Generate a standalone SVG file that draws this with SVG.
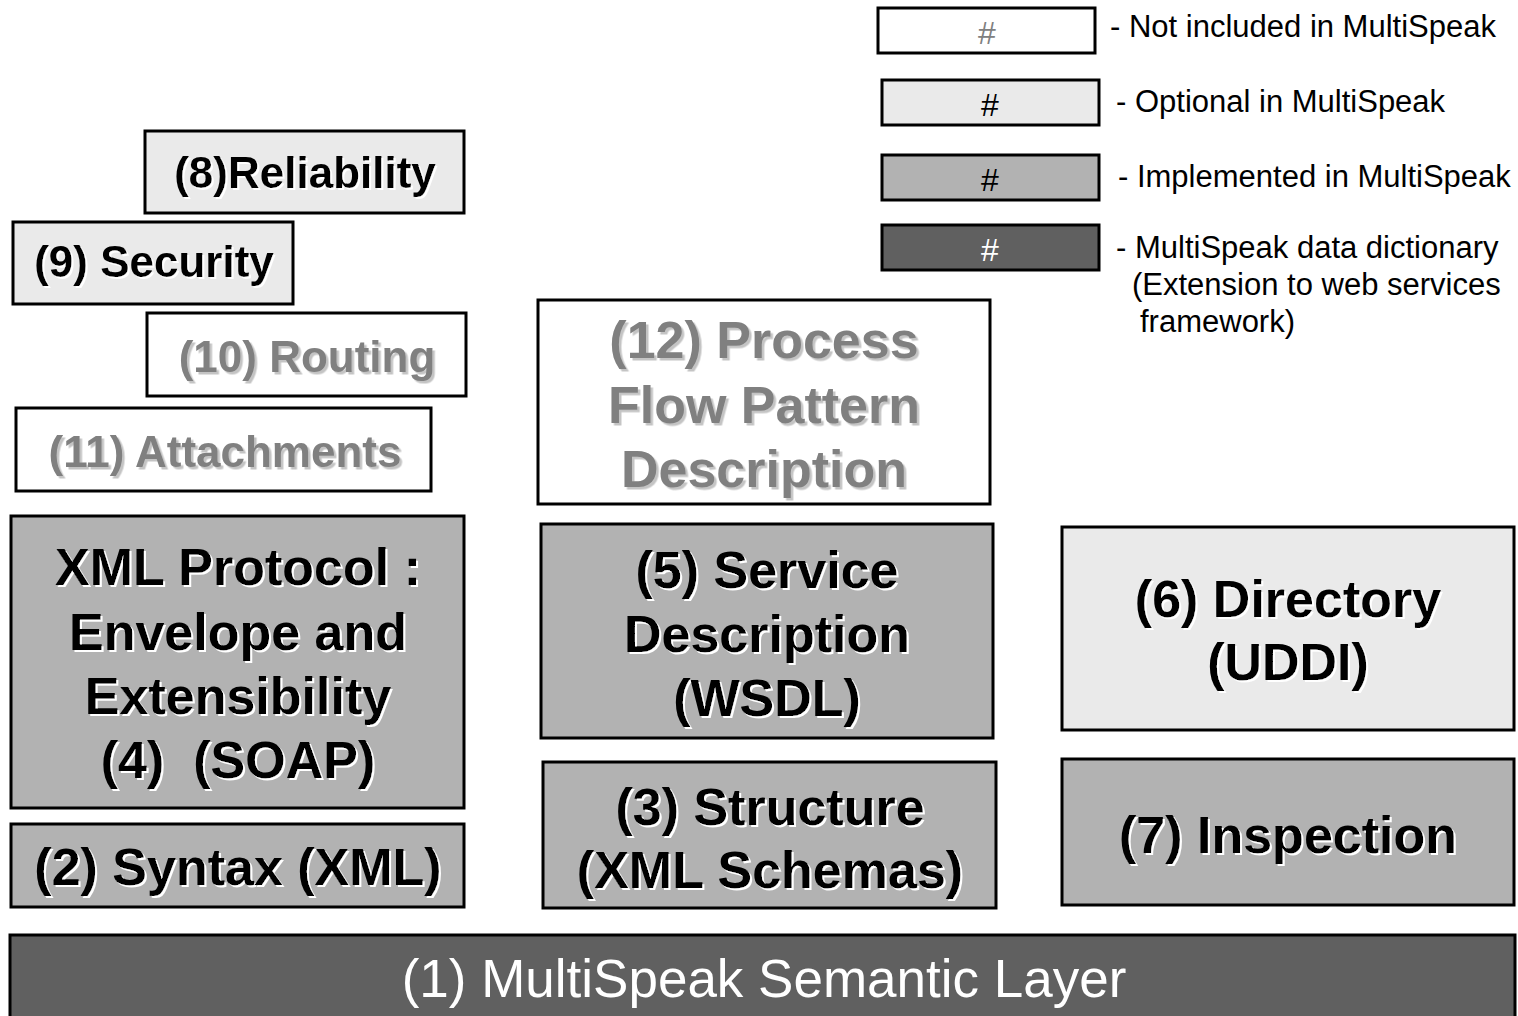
<svg xmlns="http://www.w3.org/2000/svg" width="1518" height="1016" viewBox="0 0 1518 1016">
<defs>
<filter id="shW" x="-5%" y="-5%" width="110%" height="115%"><feDropShadow dx="2" dy="2" stdDeviation="0" flood-color="#ffffff"/></filter>
<filter id="shG" x="-5%" y="-5%" width="110%" height="115%"><feDropShadow dx="2.5" dy="2.5" stdDeviation="0" flood-color="#c4c4c4"/></filter>
</defs>
<style>
.box{stroke:#000;stroke-width:3}
.none{fill:#ffffff}
.opt{fill:#eaeaea}
.impl{fill:#b2b2b2}
.dict{fill:#606060}
text{font-family:"Liberation Sans",Arial,sans-serif}
.b{font-weight:bold;text-anchor:middle;fill:#000;filter:url(#shW)}
.g{font-weight:bold;text-anchor:middle;fill:#808080;filter:url(#shG)}
.leg{font-size:31px;fill:#000}
.hash{font-size:32px;text-anchor:middle}
</style>
<rect width="1518" height="1016" fill="#fff"/>

<g id="legend">
<rect class="box none" x="878" y="8" width="217" height="45"/>
<text class="hash" x="987" y="44" fill="#808080">#</text>
<text class="leg" x="1110" y="37">- Not included in MultiSpeak</text>
<rect class="box opt" x="882" y="80" width="217" height="45"/>
<text class="hash" x="990" y="116" fill="#000">#</text>
<text class="leg" x="1116" y="112">- Optional in MultiSpeak</text>
<rect class="box impl" x="882" y="155" width="217" height="45"/>
<text class="hash" x="990" y="191" fill="#000">#</text>
<text class="leg" x="1118" y="187">- Implemented in MultiSpeak</text>
<rect class="box dict" x="882" y="225" width="217" height="45"/>
<text class="hash" x="990" y="261" fill="#fff">#</text>
<text class="leg" x="1116" y="258">- MultiSpeak data dictionary</text>
<text class="leg" x="1132" y="295">(Extension to web services</text>
<text class="leg" x="1140" y="332">framework)</text>
</g>

<g id="n8">
<rect class="box opt" x="145" y="131" width="319" height="82"/>
<text class="b" x="305" y="188" font-size="44">(8)Reliability</text>
</g>
<g id="n9">
<rect class="box opt" x="13" y="222" width="280" height="82"/>
<text class="b" x="154" y="277" font-size="44">(9) Security</text>
</g>
<g id="n10">
<rect class="box none" x="147" y="313" width="319" height="83"/>
<text class="g" x="307" y="372" font-size="44">(10) Routing</text>
</g>
<g id="n11">
<rect class="box none" x="16" y="408" width="415" height="83"/>
<text class="g" x="225" y="467" font-size="44">(11) Attachments</text>
</g>
<g id="n12">
<rect class="box none" x="538" y="300" width="452" height="204"/>
<text class="g" x="764" y="358" font-size="52">(12) Process</text>
<text class="g" x="764" y="423" font-size="52">Flow Pattern</text>
<text class="g" x="764" y="487" font-size="52">Description</text>
</g>
<g id="n4">
<rect class="box impl" x="11" y="516" width="453" height="292"/>
<text class="b" x="238" y="585" font-size="52">XML Protocol :</text>
<text class="b" x="238" y="650" font-size="52">Envelope and</text>
<text class="b" x="238" y="714" font-size="52">Extensibility</text>
<text class="b" x="238" y="778" font-size="52" xml:space="preserve">(4)  (SOAP)</text>
</g>
<g id="n2">
<rect class="box impl" x="11" y="824" width="453" height="83"/>
<text class="b" x="238" y="885" font-size="52">(2) Syntax (XML)</text>
</g>
<g id="n5">
<rect class="box impl" x="541" y="524" width="452" height="214"/>
<text class="b" x="767" y="588" font-size="52">(5) Service</text>
<text class="b" x="767" y="652" font-size="52">Description</text>
<text class="b" x="767" y="716" font-size="52">(WSDL)</text>
</g>
<g id="n3">
<rect class="box impl" x="543" y="762" width="453" height="146"/>
<text class="b" x="770" y="825" font-size="52">(3) Structure</text>
<text class="b" x="770" y="888" font-size="52">(XML Schemas)</text>
</g>
<g id="n6">
<rect class="box opt" x="1062" y="527" width="452" height="203"/>
<text class="b" x="1288" y="617" font-size="52">(6) Directory</text>
<text class="b" x="1288" y="680" font-size="52">(UDDI)</text>
</g>
<g id="n7">
<rect class="box impl" x="1062" y="759" width="452" height="146"/>
<text class="b" x="1288" y="853" font-size="52">(7) Inspection</text>
</g>
<g id="n1">
<rect class="box dict" x="10" y="935" width="1505" height="90"/>
<text x="764" y="997" font-size="53" text-anchor="middle" fill="#fff">(1) MultiSpeak Semantic Layer</text>
</g>
<g id="connectors"></g>
</svg>
